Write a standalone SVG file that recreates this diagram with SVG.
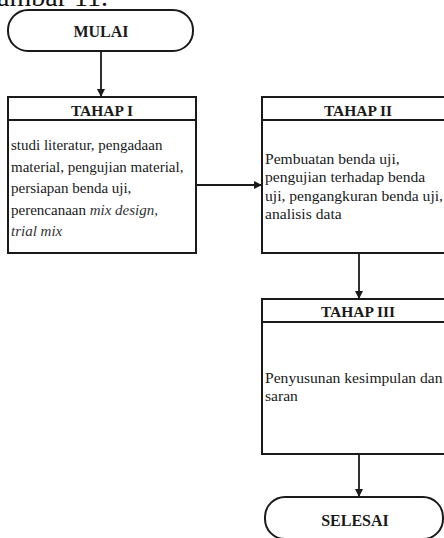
<svg xmlns="http://www.w3.org/2000/svg" width="444" height="538" viewBox="0 0 444 538">
<defs>
<style>
.shape{fill:#fff;stroke:#1a1a1a;stroke-width:2}
.line{fill:none;stroke:#1a1a1a;stroke-width:1.8}
.hdr{font-family:"Liberation Serif","Times New Roman",serif;font-weight:bold;font-size:15.5px;fill:#1a1a1a;text-anchor:middle}
.body{font-family:"Liberation Serif","Times New Roman",serif;font-size:15px;fill:#1a1a1a}
.body2{font-family:"Liberation Serif","Times New Roman",serif;font-size:15.6px;fill:#1a1a1a}
.term{font-family:"Liberation Serif","Times New Roman",serif;font-weight:bold;font-size:16px;fill:#1a1a1a;text-anchor:middle}
.title{font-family:"Liberation Serif","Times New Roman",serif;font-size:28px;fill:#111}
</style>
<marker id="arr" markerWidth="8" markerHeight="8" refX="7" refY="4" orient="auto" markerUnits="userSpaceOnUse">
<path d="M0,0 L8,4 L0,8 Z" fill="#1a1a1a"/>
</marker>
</defs>
<rect width="444" height="538" fill="#fff"/>
<text class="title" x="108" y="6" text-anchor="end">Gambar 11.</text>

<g id="connectors">
<line class="line" x1="101" y1="51" x2="101" y2="96" marker-end="url(#arr)"/>
<line class="line" x1="196" y1="185" x2="261" y2="185" marker-end="url(#arr)"/>
<line class="line" x1="359" y1="253" x2="359" y2="298" marker-end="url(#arr)"/>
<line class="line" x1="359" y1="454" x2="359" y2="496" marker-end="url(#arr)"/>
</g>

<g id="mulai">
<rect class="shape" x="8" y="10" width="185" height="41" rx="20" ry="20"/>
<text class="term" x="101" y="37">MULAI</text>
</g>

<g id="tahap1">
<rect class="shape" x="8" y="97" width="188" height="156"/>
<line class="line" x1="8" y1="120" x2="196" y2="120" stroke-width="2"/>
<text class="hdr" x="102" y="116">TAHAP I</text>
<text class="body">
<tspan x="11" y="150">studi literatur, pengadaan</tspan>
<tspan x="11" y="172">material, pengujian material,</tspan>
<tspan x="11" y="193">persiapan benda uji,</tspan>
<tspan x="11" y="215">perencanaan <tspan font-style="italic" fill="#333">mix design,</tspan></tspan>
<tspan x="11" y="236" font-style="italic" fill="#333">trial mix</tspan>
</text>
</g>

<g id="tahap2">
<rect class="shape" x="262" y="97" width="190" height="156"/>
<line class="line" x1="262" y1="120" x2="452" y2="120" stroke-width="2"/>
<text class="hdr" x="358" y="116">TAHAP II</text>
<text class="body2">
<tspan x="265" y="164">Pembuatan benda uji,</tspan>
<tspan x="265" y="182">pengujian terhadap benda</tspan>
<tspan x="265" y="201">uji, pengangkuran benda uji,</tspan>
<tspan x="265" y="219">analisis data</tspan>
</text>
</g>

<g id="tahap3">
<rect class="shape" x="262" y="299" width="190" height="155"/>
<line class="line" x1="262" y1="322" x2="452" y2="322" stroke-width="2"/>
<text class="hdr" x="358" y="317">TAHAP III</text>
<text class="body2">
<tspan x="265" y="383">Penyusunan kesimpulan dan</tspan>
<tspan x="265" y="401">saran</tspan>
</text>
</g>

<g id="selesai">
<rect class="shape" x="265" y="497" width="178" height="42" rx="20" ry="20"/>
<text class="term" x="355" y="526">SELESAI</text>
</g>
</svg>
